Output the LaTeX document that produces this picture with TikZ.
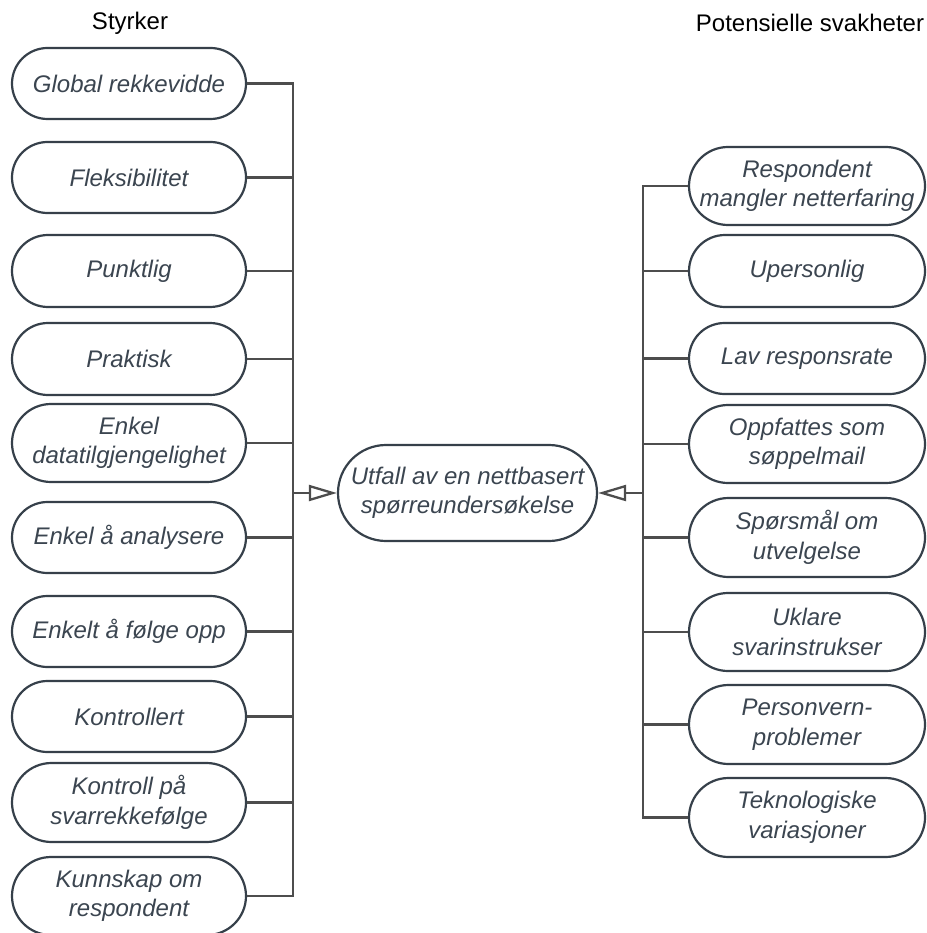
\documentclass[tikz,border=0pt]{standalone}
\usepackage{fontspec}
\setmainfont{Liberation Sans}
\usetikzlibrary{shapes.misc,arrows.meta}
\definecolor{edgeclr}{HTML}{36404A}
\definecolor{txtclr}{HTML}{3B4550}
\definecolor{wireclr}{HTML}{4D4D4D}

\begin{document}
\begin{tikzpicture}[x=1pt,y=-1pt,
  pill/.style={rounded rectangle, draw=edgeclr, line width=2.2pt, fill=white,
    inner sep=0pt, minimum width=234pt, minimum height=#1},
  pill/.default=71pt,
  itext/.style={text=txtclr, font=\fontsize{24pt}{29.5pt}\selectfont\itshape,
    align=center, inner sep=0pt},
  heading/.style={text=black, font=\fontsize{24pt}{29pt}\selectfont, inner sep=0pt},
  wire/.style={draw=wireclr, line width=2.3pt},
  feed/.style={wire, -{Triangle[open, length=28pt, width=16pt]}}
]
\useasboundingbox (0,0) rectangle (926,933);

% column headings
\node[heading] (tS) at (130,23) {Styrker};
\node[heading] (tP) at (810,23) {Potensielle svakheter};

% central outcome
\node[rounded rectangle, draw=edgeclr, line width=2.2pt, inner sep=0pt,
      minimum width=259pt, minimum height=96pt,
      label={[itext]center:{Utfall av en nettbasert\\spørreundersøkelse}}]
      (C) at (467.5,493) {};

% strengths
\node[pill, label={[itext]center:{Global rekkevidde}}] (L1) at (129,83.5) {};
\node[pill, label={[itext]center:{Fleksibilitet}}] (L2) at (129,177.5) {};
\node[pill=72pt, label={[itext]center:{Punktlig}}] (L3) at (129,271) {};
\node[pill=72pt, label={[itext]center:{Praktisk}}] (L4) at (129,359) {};
\node[pill=78pt, label={[itext]center:{Enkel\\datatilgjengelighet}}] (L5) at (129,443) {};
\node[pill, label={[itext]center:{Enkel å analysere}}] (L6) at (129,537.5) {};
\node[pill, label={[itext]center:{Enkelt å følge opp}}] (L7) at (129,631.5) {};
\node[pill, label={[itext]center:{Kontrollert}}] (L8) at (129,716.5) {};
\node[pill=79pt, label={[itext]center:{Kontroll på\\svarrekkefølge}}] (L9) at (129,802.5) {};
\node[pill=78pt, label={[itext]center:{Kunnskap om\\respondent}}] (L10) at (129,896) {};

% weaknesses
\node[pill=78pt, minimum width=236pt, label={[itext]center:{Respondent\\mangler netterfaring}}] (R1) at (807,186) {};
\node[pill=72pt, minimum width=236pt, label={[itext]center:{Upersonlig}}] (R2) at (807,271) {};
\node[pill, minimum width=236pt, label={[itext]center:{Lav responsrate}}] (R3) at (807,358.5) {};
\node[pill=78pt, minimum width=236pt, label={[itext]center:{Oppfattes som\\søppelmail}}] (R4) at (807,444) {};
\node[pill=79pt, minimum width=236pt, label={[itext]center:{Spørsmål om\\utvelgelse}}] (R5) at (807,537.5) {};
\node[pill=78pt, minimum width=236pt, label={[itext]center:{Uklare\\svarinstrukser}}] (R6) at (807,632) {};
\node[pill=79pt, minimum width=236pt, label={[itext]center:{Personvern-\\problemer}}] (R7) at (807,724.5) {};
\node[pill=79pt, minimum width=236pt, label={[itext]center:{Teknologiske\\variasjoner}}] (R8) at (807,817.5) {};

% junction points on the two collecting bars
\coordinate (jL) at (293,493);
\coordinate (jR) at (643,493);

% collecting connectors
\foreach \k in {1,...,10} \draw[wire] (L\k.east) -| (jL);
\foreach \k in {1,...,8} \draw[wire] (R\k.west) -| (jR);

% feeds into the outcome
\draw[feed] (jL) -- (C.west);
\draw[feed] (jR) -- (C.east);
\end{tikzpicture}
\end{document}
